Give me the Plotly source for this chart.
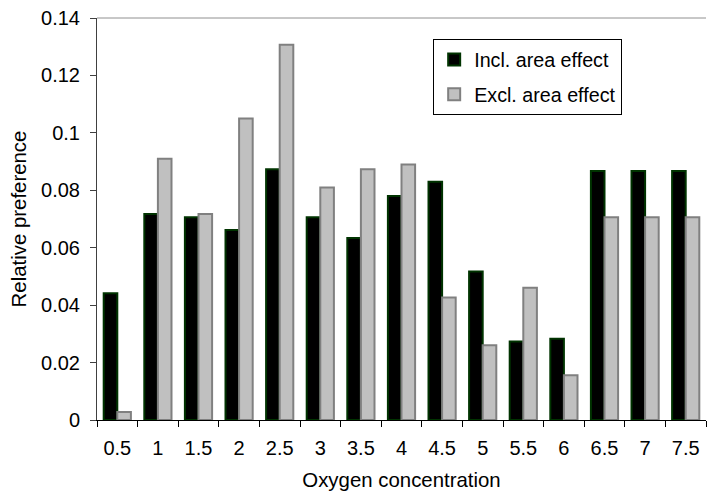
import plotly.graph_objects as go

categories = ["0.5", "1", "1.5", "2", "2.5", "3", "3.5", "4", "4.5", "5",
              "5.5", "6", "6.5", "7", "7.5"]
incl_area = [0.0441, 0.0717, 0.0706, 0.0662, 0.0873, 0.0706, 0.0634, 0.0780,
             0.0830, 0.0517, 0.0273, 0.0283, 0.0867, 0.0867, 0.0867]
excl_area = [0.0028, 0.0910, 0.0717, 0.1050, 0.1307, 0.0810, 0.0873, 0.0890,
             0.0427, 0.0260, 0.0461, 0.0156, 0.0706, 0.0706, 0.0706]

FAMILY = "Liberation Sans, Arial, sans-serif"
tick_font = dict(family=FAMILY, size=20, color="black")
title_font = dict(family=FAMILY, size=20.4, color="black")

fig = go.Figure()
fig.add_trace(go.Bar(
    x=categories, y=incl_area, name="Incl. area effect", legendgroup="incl",
    marker=dict(color="black", line=dict(color="#003300", width=2)),
))
fig.add_trace(go.Bar(
    x=categories, y=excl_area, name="Excl. area effect", legendgroup="excl",
    marker=dict(color="#c0c0c0", line=dict(color="#808080", width=2)),
))

fig.update_layout(
    width=707, height=497,
    margin=dict(l=97, r=1, t=18, b=77),
    paper_bgcolor="white", plot_bgcolor="white",
    font=tick_font,
    barmode="group", bargap=0.33, bargroupgap=0.0,
    legend=dict(
        x=0.552, y=0.947, xanchor="left", yanchor="top",
        bordercolor="black", borderwidth=1, bgcolor="white",
        font=dict(family=FAMILY, size=19.7, color="black"),
        tracegroupgap=6, itemwidth=30,
    ),
    xaxis=dict(
        type="category", tickson="boundaries", automargin=False,
        ticks="outside", ticklen=6, tickcolor="black",
        showline=True, linecolor="black", linewidth=1,
        showgrid=False, ticklabelstandoff=10, tickfont=tick_font,
        title=dict(text="Oxygen concentration", standoff=14, font=title_font),
    ),
    yaxis=dict(
        range=[0, 0.14], dtick=0.02, automargin=False,
        ticks="outside", ticklen=6, tickcolor="#404040",
        showline=True, linecolor="#404040", linewidth=1,
        showgrid=False, zeroline=False, ticklabelstandoff=6, tickfont=tick_font,
        title=dict(text="Relative preference", standoff=8, font=title_font),
    ),
    shapes=[dict(type="line", xref="paper", yref="paper",
                 x0=0, x1=1, y0=1, y1=1,
                 line=dict(color="#909090", width=1))],
)

fig.write_html("out.html")
